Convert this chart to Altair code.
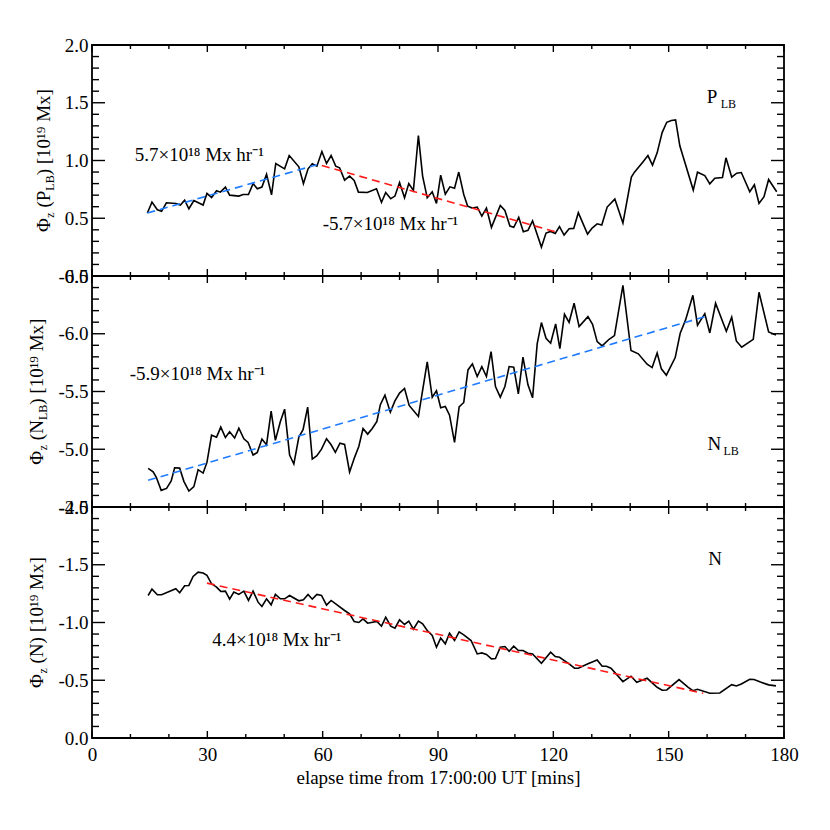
import altair as alt
import pandas as pd

FONT = "Liberation Serif"

# ---------------- data ----------------
# Panel 1: Phi_z(P_LB) [1e19 Mx]
t_plb = [14.4, 15.6, 17.0, 18.1, 19.35, 21.8, 23.0, 24.1, 25.2, 26.5, 28.9, 29.9, 31.1, 32.4, 33.4,
         34.7, 35.8, 38.2, 39.3, 40.7, 41.9, 43.0, 44.2, 45.4, 46.7, 47.8, 50.1, 51.3, 53.8, 55.0,
         56.2, 57.3, 58.5, 59.8, 61.0, 62.2, 63.4, 64.4, 65.7, 67.0, 68.2, 69.3, 71.6, 74.0, 75.3,
         76.4, 77.7, 78.8, 80.0, 81.3, 82.4, 83.6, 84.9, 86.0, 87.2, 88.5, 89.6, 90.7, 91.9, 93.1,
         94.3, 95.4, 96.7, 97.7, 98.95, 100.2, 101.4, 102.6, 103.9, 106.2, 107.4, 108.7, 109.7, 111.0,
         112.2, 113.4, 114.6, 116.9, 118.1, 119.3, 120.5, 121.6, 122.8, 124.1, 125.3, 126.5, 128.9,
         130.1, 131.4, 132.6, 134.0, 136.0, 138.1, 140.3, 141.1, 143.3, 144.6, 145.8, 147.0, 148.3,
         149.5, 150.7, 151.8, 152.9, 156.4, 157.5, 159.4, 160.7, 162.0, 164.0, 164.9, 166.4, 167.7,
         168.9, 171.1, 172.3, 173.5, 174.8, 176.0, 178.1]
v_plb = [0.545, 0.64, 0.573, 0.56, 0.634, 0.628, 0.614, 0.657, 0.582, 0.654, 0.614, 0.715, 0.68, 0.738, 0.726,
         0.77, 0.70, 0.692, 0.706, 0.706, 0.80, 0.755, 0.77, 0.88, 0.703, 0.974, 0.928, 1.043, 0.945, 0.80,
         0.928, 0.971, 0.951, 1.078, 0.974, 1.043, 0.951, 0.937, 0.83, 0.865, 0.827, 0.726, 0.723, 0.755, 0.637,
         0.723, 0.669, 0.692, 0.81, 0.677, 0.80, 0.74, 1.216, 0.865, 0.677, 0.729, 0.628, 0.873, 0.709, 0.772,
         0.76, 0.90, 0.706, 0.605, 0.588, 0.597, 0.519, 0.588, 0.421, 0.611, 0.568, 0.432, 0.421, 0.507,
         0.383, 0.395, 0.478, 0.25, 0.372, 0.386, 0.369, 0.427, 0.354, 0.409, 0.412, 0.548, 0.363,
         0.415, 0.452, 0.441, 0.597, 0.666, 0.458, 0.856, 0.899, 0.988, 1.043, 0.96, 1.066, 1.242,
         1.331, 1.346, 1.352, 1.127, 0.744, 0.899, 0.870, 0.798, 0.847, 0.853, 1.023, 0.856, 0.89,
         0.896, 0.729, 0.79, 0.628, 0.686, 0.836, 0.729]

# Panel 2: Phi_z(N_LB) [1e19 Mx]
t_nlb = [14.6, 15.9, 16.7, 18.0, 19.4, 20.6, 21.5, 22.8, 23.9, 25.2, 26.5, 27.6, 28.9, 29.9, 31.1,
         32.4, 33.5, 34.7, 35.8, 37.1, 38.2, 39.5, 40.6, 41.9, 43.0, 44.2, 45.4, 46.6, 47.7, 49.0,
         50.1, 51.4, 52.5, 53.8, 54.9, 56.1, 57.3, 58.5, 59.7, 61.0, 62.2, 63.3, 64.5, 65.7, 67.0,
         68.3, 69.4, 70.5, 71.7, 72.9, 74.1, 75.0, 76.2, 77.6, 78.8, 80.0, 81.3, 82.5, 84.9, 87.2,
         88.5, 89.6, 90.7, 91.9, 93.0, 94.3, 95.5, 96.7, 97.8, 98.95, 100.2, 101.4, 102.6, 103.8,
         104.95, 106.2, 107.4, 108.5, 109.7, 110.9, 112.1, 113.4, 114.6, 115.8, 116.9, 118.1, 119.3,
         120.6, 121.7, 122.9, 124.1, 125.4, 126.7, 129.0, 130.2, 131.4, 132.7, 134.5, 135.9, 138.1,
         140.2, 142.1, 144.4, 145.7, 147.0, 148.1, 149.4, 151.7, 153.0, 154.4, 156.3, 157.5, 159.4,
         160.7, 162.2, 165.0, 166.4, 167.6, 169.0, 172.0, 173.5, 176.0, 177.9]
v_nlb = [-4.834, -4.805, -4.759, -4.644, -4.661, -4.725, -4.84, -4.837, -4.722, -4.638, -4.676, -4.823, -4.794, -4.886, -5.122,
         -5.105, -5.192, -5.102, -5.151, -5.097, -5.183, -5.091, -5.059, -4.95, -4.973, -5.088, -5.039, -5.33, -5.077, -5.24,
         -5.347, -4.95, -4.872, -5.105, -5.169, -5.365, -4.915, -4.944, -5.001, -5.091, -5.039, -4.973, -5.053, -5.042, -4.803,
         -4.93, -5.024, -5.18, -5.131, -5.18, -5.24, -5.386, -5.468, -5.321, -5.419, -5.486, -5.526, -5.379, -5.284, -5.756,
         -5.45, -5.506, -5.36, -5.37, -5.295, -5.059, -5.367, -5.405, -5.687, -5.739, -5.63, -5.716, -5.63, -5.846,
         -5.543, -5.451, -5.543, -5.716, -5.71, -5.48, -5.797, -5.558, -5.445, -5.912, -6.097, -5.961, -5.918,
         -6.085, -5.872, -6.169, -6.099, -6.264, -6.062, -6.148, -6.082, -5.932, -5.895, -5.952, -5.984, -6.419,
         -5.855, -5.826, -5.736, -5.707, -5.834, -5.696, -5.641, -5.794, -6.004, -6.12, -6.333, -6.074, -6.174,
         -6.007, -6.264, -6.021, -6.143, -5.938, -5.883, -5.952, -6.359, -6.016, -5.99]

# Panel 3: Phi_z(N) [1e19 Mx]
t_n = [14.6, 15.6, 17.0, 18.1, 21.8, 22.8, 24.1, 25.2, 26.3, 27.6, 28.9, 29.9, 31.1, 32.4, 33.5,
       34.7, 35.8, 36.9, 38.2, 39.5, 40.7, 41.9, 43.2, 44.2, 45.4, 46.6, 47.7, 49.0, 50.1, 51.4,
       53.8, 55.0, 56.2, 57.3, 58.5, 59.7, 61.0, 62.2, 65.7, 67.0, 68.2, 69.4, 70.5, 71.7, 74.1,
       75.3, 76.4, 77.7, 78.8, 80.0, 81.3, 82.4, 83.6, 84.9, 86.0, 87.2, 88.5, 89.6, 90.7, 91.9,
       93.0, 94.3, 95.5, 96.7, 98.6, 100.2, 101.4, 102.6, 103.9, 104.95, 106.2, 107.4, 108.5, 109.7,
       110.9, 112.1, 113.4, 114.6, 116.9, 119.3, 120.5, 121.6, 124.1, 125.5, 126.5, 129.0, 131.4,
       132.7, 133.8, 135.0, 138.1, 140.2, 141.7, 144.4, 147.0, 148.3, 149.5, 152.7, 155.1, 156.3,
       157.5, 160.7, 163.3, 166.4, 167.6, 168.9, 171.1, 172.2, 173.7, 176.0, 177.9]
v_n = [-1.234, -1.289, -1.24, -1.24, -1.292, -1.257, -1.318, -1.321, -1.399, -1.436, -1.428, -1.408, -1.335, -1.306, -1.269,
       -1.272, -1.202, -1.263, -1.243, -1.272, -1.191, -1.272, -1.176, -1.139, -1.205, -1.153, -1.243, -1.205, -1.205, -1.234,
       -1.188, -1.197, -1.243, -1.202, -1.243, -1.234, -1.150, -1.191, -1.104, -1.075, -1.009, -1.0, -1.032, -0.994, -1.009,
       -0.968, -1.046, -0.968, -0.951, -1.023, -0.983, -1.012, -0.942, -1.012, -0.988, -0.931, -0.887, -0.786, -0.865, -0.815,
       -0.908, -0.844, -0.919, -0.893, -0.844, -0.728, -0.737, -0.723, -0.685, -0.688, -0.786, -0.792, -0.751, -0.795,
       -0.757, -0.757, -0.734, -0.728, -0.647, -0.743, -0.705, -0.699, -0.642, -0.604, -0.604, -0.642, -0.676,
       -0.621, -0.621, -0.604, -0.488, -0.535, -0.483, -0.517, -0.439, -0.413, -0.416, -0.506, -0.439, -0.410,
       -0.422, -0.387, -0.390, -0.462, -0.451, -0.468, -0.509, -0.506, -0.486, -0.460, -0.451]

# linear trend lines (end points)
fit_plb_up_t, fit_plb_up_v = [14.4, 58.5], [0.545, 0.963]
fit_plb_dn_t, fit_plb_dn_v = [59.8, 120.5], [0.957, 0.383]
fit_nlb_t, fit_nlb_v = [14.6, 159.4], [-4.731, -6.148]
fit_n_t, fit_n_v = [29.9, 159.0], [-1.341, -0.387]

rate_labels = ["5.7×10¹⁸ Mx hr⁻¹", "-5.7×10¹⁸ Mx hr⁻¹", "-5.9×10¹⁸ Mx hr⁻¹", "4.4×10¹⁸ Mx hr⁻¹"]

x_major = [0, 30, 60, 90, 120, 150, 180]
x_minor = [10, 20, 40, 50, 70, 80, 100, 110, 130, 140, 160, 170]

BLUE = "#1f7bff"
RED = "#ff1a1a"
W, H = 692, 231
FS = 19
SUB = 12

LEXPR = "(datum.value < -0.001 ? '-' : '') + format(abs(datum.value), '.1f')"


def yticks(lo):
    major = [round(lo + 0.5 * i, 1) for i in range(5)]
    minor = [round(lo + 0.1 * i, 1) for i in range(21) if i % 5 != 0]
    return major, minor


def make_panel(t, v, domain, reverse, fits, anns, title_segs, title_x, show_x):
    xax = (alt.Axis(title="elapse time from 17:00:00 UT [mins]", values=x_major, ticks=False,
                    domain=False, grid=False, labelPadding=7, titlePadding=4, labelFlush=False,
                    format="d") if show_x else None)
    xs = alt.Scale(domain=[0, 180], nice=False, zero=False)
    ys = alt.Scale(domain=domain, reverse=reverse, nice=False, zero=False)
    ymaj, ymin = yticks(min(domain))
    yax = alt.Axis(title=None, values=ymaj, ticks=False, domain=False, grid=False,
                   labelPadding=4, labelExpr=LEXPR, labelFlush=False)

    def X():
        return alt.X("t:Q", scale=xs, axis=xax)

    def Y():
        return alt.Y("v:Q", scale=ys, axis=yax)

    layers = []
    layers.append(alt.Chart(pd.DataFrame({"t": t, "v": v})).mark_line(
        color="black", strokeWidth=1.6).encode(x=X(), y=Y()))
    for ft, fv, col in fits:
        layers.append(alt.Chart(pd.DataFrame({"t": ft, "v": fv})).mark_line(
            color=col, strokeWidth=1.6, strokeDash=[8, 5]).encode(x=X(), y=Y()))
    # inward ticks
    for vals, ln in ((ymaj, 13), (ymin, 7)):
        df = pd.DataFrame({"v": vals})
        layers.append(alt.Chart(df).mark_rule(color="black", strokeWidth=1.4).encode(
            y=Y(), x=alt.value(0), x2=alt.value(ln)))
        layers.append(alt.Chart(df).mark_rule(color="black", strokeWidth=1.4).encode(
            y=Y(), x=alt.value(W), x2=alt.value(W - ln)))
    for vals, ln in ((x_major, 7), (x_minor, 4)):
        df = pd.DataFrame({"t": vals})
        layers.append(alt.Chart(df).mark_rule(color="black", strokeWidth=1.4).encode(
            x=X(), y=alt.value(0), y2=alt.value(ln)))
        layers.append(alt.Chart(df).mark_rule(color="black", strokeWidth=1.4).encode(
            x=X(), y=alt.value(H), y2=alt.value(H - ln)))
    # annotations
    for at, av, s, size, dx, dy in anns:
        layers.append(alt.Chart(pd.DataFrame({"t": [at], "v": [av], "s": [s]})).mark_text(
            font=FONT, fontSize=size, align="left", baseline="alphabetic", color="black",
            dx=dx, dy=dy).encode(x=X(), y=Y(), text="s:N"))
    # rotated y title built from pieces (main text, subscripts, gaps)
    widths = {"Φ": 0.76, "z": 0.444, " ": 0.25, "(": 0.333, ")": 0.333, "P": 0.556, "L": 0.611,
              "B": 0.667, "N": 0.722, "[": 0.333, "]": 0.333, "M": 0.889, "x": 0.5, "¹": 0.33, "⁹": 0.33}
    pieces = []
    for s, kind in title_segs:
        if kind == "gap":
            pieces.append((None, 0, kind, 0.25 * FS))
            continue
        size = FS if kind == "n" else SUB
        pieces.append((s, size, kind, sum(widths.get(c, 0.5) for c in s) * size))
    total = sum(p[3] for p in pieces)
    ypos = H / 2 + total / 2
    for s, size, kind, w in pieces:
        if s is not None:
            xoff = 4 if kind == "sub" else 0
            layers.append(alt.Chart(pd.DataFrame({"s": [s]})).mark_text(
                font=FONT, fontSize=size, angle=270, align="left", baseline="alphabetic",
                color="black").encode(text="s:N", x=alt.value(title_x + xoff), y=alt.value(ypos)))
        ypos -= w
    return alt.layer(*layers).properties(width=W, height=H)


p1 = make_panel(
    t_plb, v_plb, [0.0, 2.0], False,
    [(fit_plb_up_t, fit_plb_up_v, BLUE), (fit_plb_dn_t, fit_plb_dn_v, RED)],
    [(11.1, 0.998, rate_labels[0], FS, 0, 0), (60.0, 0.402, rate_labels[1], FS, 0, 0),
     (159.9, 1.50, "P", FS, 0, 0), (159.9, 1.50, "LB", SUB, 14, 5)],
    [("Φ", "n"), ("z", "sub"), ("", "gap"), ("(P", "n"), ("LB", "sub"), (") [10¹⁹ Mx]", "n")], -42, False)

p2 = make_panel(
    t_nlb, v_nlb, [-6.5, -4.5], True,
    [(fit_nlb_t, fit_nlb_v, BLUE)],
    [(9.8, -5.596, rate_labels[2], FS, 0, 0),
     (160.1, -4.993, "N", FS, 0, 0), (160.1, -4.993, "LB", SUB, 16, 5)],
    [("Φ", "n"), ("z", "sub"), ("", "gap"), ("(N", "n"), ("LB", "sub"), (") [10¹⁹ Mx]", "n")], -49, False)

p3 = make_panel(
    t_n, v_n, [-2.0, 0.0], True,
    [(fit_n_t, fit_n_v, RED)],
    [(31.3, -0.80, rate_labels[3], FS, 0, 0), (160.3, -1.494, "N", FS, 0, 0)],
    [("Φ", "n"), ("z", "sub"), ("", "gap"), ("(N) [10¹⁹ Mx]", "n")], -49, True)

chart = alt.vconcat(p1, p2, p3, spacing=0, bounds="flush").properties(
    padding={"left": 19, "top": 27, "right": 10, "bottom": 10}
).configure_view(
    stroke="black", strokeWidth=1.8
).configure_axis(
    labelFont=FONT, labelFontSize=FS, labelColor="black",
    titleFont=FONT, titleFontSize=FS, titleColor="black", titleFontWeight="normal"
).configure_text(font=FONT)

chart.save("out.html", embed_options={"renderer": "svg", "actions": False})
